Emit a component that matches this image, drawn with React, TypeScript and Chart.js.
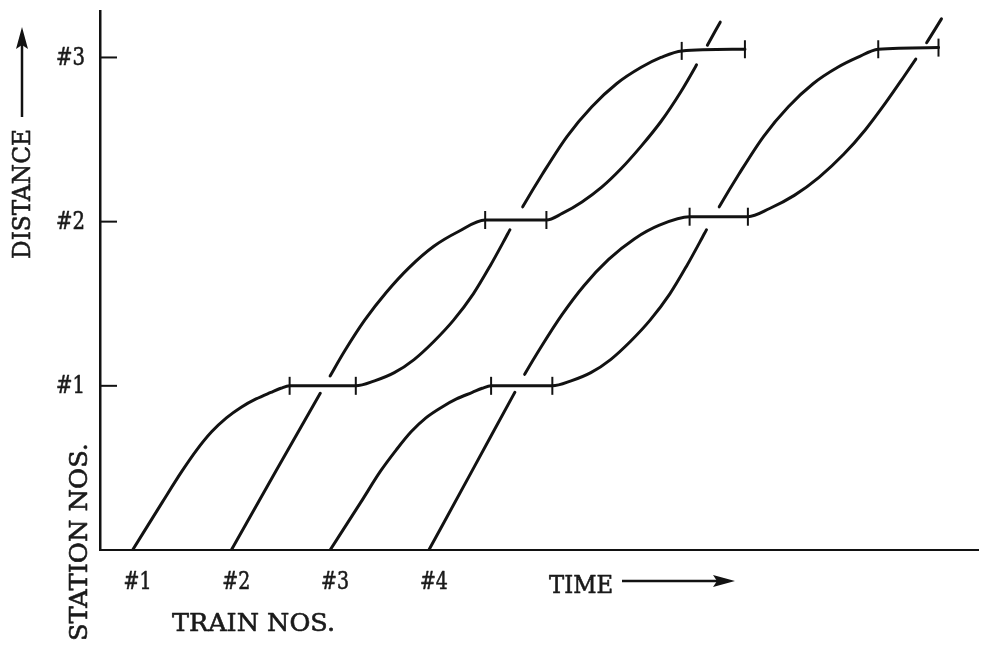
import React, { useEffect, useRef } from "react";
import { Chart, registerables } from "chart.js";

Chart.register(...registerables);

// ---- axis categories / tick labels ----
const stationValues = [1, 2, 3];
const stationLabels = ["#1", "#2", "#3"];
const trainStartTimes = [1, 2, 3, 4];
const trainLabels = ["#1", "#2", "#3", "#4"];

// ---- train paths (time units, station-distance units) ----
const train1Time = [1.0, 1.3, 1.5, 1.65, 1.8, 1.95, 2.1, 2.25, 2.4, 2.5, 2.59, 3.26, 3.45, 3.65, 3.85, 4.05, 4.25, 4.45, 4.62, 4.78, 4.82, 4.95, 5.15, 5.4, 5.65, 5.9, 6.15, 6.35, 6.56, 7.2];
const train1Dist = [0, 0.29, 0.48, 0.61, 0.72, 0.805, 0.87, 0.92, 0.96, 0.985, 1.0, 1.0, 1.03, 1.08, 1.16, 1.27, 1.4, 1.56, 1.73, 1.905, 1.95, 2.09, 2.29, 2.52, 2.7, 2.84, 2.94, 3.0, 3.04, 3.05];
const train1Gaps = [4.82];

const train2Time = [2.0, 2.45, 2.9, 3.0, 3.15, 3.35, 3.57, 3.8, 4.05, 4.3, 4.57, 5.19, 5.35, 5.55, 5.75, 5.95, 6.15, 6.35, 6.55, 6.71, 6.82, 6.95];
const train2Dist = [0, 0.48, 0.955, 1.06, 1.215, 1.4, 1.57, 1.72, 1.85, 1.94, 2.01, 2.01, 2.05, 2.12, 2.21, 2.325, 2.46, 2.61, 2.79, 2.955, 3.075, 3.215];
const train2Gaps = [2.9, 6.71];

const train3Time = [3.0, 3.31, 3.51, 3.67, 3.82, 3.97, 4.13, 4.28, 4.44, 4.54, 4.63, 5.25, 5.44, 5.64, 5.84, 6.04, 6.24, 6.44, 6.61, 6.77, 6.81, 6.94, 7.14, 7.39, 7.64, 7.89, 8.14, 8.34, 8.55, 9.16];
const train3Dist = [0, 0.29, 0.48, 0.61, 0.72, 0.805, 0.87, 0.92, 0.96, 0.985, 1.0, 1.0, 1.03, 1.08, 1.16, 1.27, 1.4, 1.56, 1.73, 1.905, 1.95, 2.09, 2.29, 2.52, 2.7, 2.84, 2.94, 3.0, 3.05, 3.06];
const train3Gaps = [6.81];

const train4Time = [4.0, 4.44, 4.87, 4.97, 5.15, 5.35, 5.57, 5.82, 6.08, 6.34, 6.64, 7.23, 7.45, 7.7, 7.95, 8.2, 8.42, 8.62, 8.8, 8.93, 9.04, 9.19];
const train4Dist = [0, 0.485, 0.96, 1.07, 1.25, 1.435, 1.61, 1.77, 1.895, 1.98, 2.03, 2.03, 2.08, 2.16, 2.27, 2.41, 2.56, 2.72, 2.875, 2.99, 3.09, 3.235];
const train4Gaps = [4.87, 8.93];

// ---- stop (arrival / departure) marks ----
const stopTimes = [2.59, 3.26, 6.56, 7.2, 4.57, 5.19, 4.63, 5.25, 8.55, 9.16, 6.64, 7.23];
const stopDist = [1.0, 1.0, 3.04, 3.05, 2.01, 2.01, 1.0, 1.0, 3.05, 3.06, 2.03, 2.03];

// ---- axis ranges ----
const timeMin = 0.67;
const timeMax = 9.56;
const distMin = 0;
const distMax = 3.283;

const LINE = "#121212";
const TEXT = "#1a1a1a";
const FONT_SIZE = 25;
const CAP = FONT_SIZE * 0.729;
const FONT_FAMILY = '"DejaVu Serif", "Liberation Serif", serif';

function makeTrain(label: string, times: number[], dists: number[], gaps: number[]) {
  return {
    label,
    data: times.map((t, i) => ({ x: t, y: dists[i] })),
    borderColor: LINE,
    borderWidth: 3,
    pointRadius: 0,
    fill: false,
    cubicInterpolationMode: "monotone" as const,
    borderCapStyle: "round" as const,
    borderJoinStyle: "round" as const,
    segment: {
      borderColor: (c: any) =>
        gaps.some((g) => Math.abs(times[c.p0DataIndex] - g) < 1e-6) ? "rgba(0,0,0,0)" : LINE,
    },
  };
}

// Draws text fitted to a given width (typewriter-like spacing), vertically centred on y.
// If vertical, text reads bottom-to-top.
function drawText(ctx: CanvasRenderingContext2D, text: string, x: number, y: number, width: number, align: "left" | "right" | "center", vertical = false) {
  ctx.save();
  ctx.font = `${FONT_SIZE}px ${FONT_FAMILY}`;
  const natural = ctx.measureText(text).width;
  const sx = width / natural;
  let start = 0;
  if (align === "right") start = -width;
  else if (align === "center") start = -width / 2;
  ctx.translate(x, y);
  if (vertical) ctx.rotate(-Math.PI / 2);
  ctx.translate(start, 0);
  ctx.scale(sx, 1);
  ctx.fillStyle = TEXT;
  ctx.strokeStyle = TEXT;
  ctx.lineWidth = 0.6;
  ctx.lineJoin = "round";
  ctx.textAlign = "left";
  ctx.textBaseline = "alphabetic";
  ctx.fillText(text, 0, CAP / 2);
  ctx.strokeText(text, 0, CAP / 2);
  ctx.restore();
}

function arrowHead(ctx: CanvasRenderingContext2D, tipX: number, tipY: number, dx: number, dy: number) {
  const len = 22;
  const half = 6;
  const bx = tipX - dx * len;
  const by = tipY - dy * len;
  const px = -dy;
  const py = dx;
  ctx.beginPath();
  ctx.moveTo(tipX, tipY);
  ctx.lineTo(bx + px * half, by + py * half);
  ctx.lineTo(bx + dx * 4, by + dy * 4);
  ctx.lineTo(bx - px * half, by - py * half);
  ctx.closePath();
  ctx.fill();
}

const decorPlugin = {
  id: "decor",
  afterDraw(chart: any) {
    const { ctx, chartArea, scales } = chart;
    const xs = scales.x;
    const ys = scales.y;
    ctx.save();
    ctx.strokeStyle = LINE;
    ctx.fillStyle = LINE;
    ctx.lineWidth = 2;
    ctx.lineCap = "butt";

    stationValues.forEach((v, i) => {
      const py = ys.getPixelForValue(v);
      ctx.beginPath();
      ctx.moveTo(chartArea.left, py);
      ctx.lineTo(chartArea.left + 17, py);
      ctx.stroke();
      drawText(ctx, stationLabels[i], chartArea.left - 15, py - 2, 29, "right");
    });

    trainStartTimes.forEach((t, i) => {
      const px = xs.getPixelForValue(t) + 5;
      drawText(ctx, trainLabels[i], px, chartArea.bottom + 30, 28, "center");
    });

    drawText(ctx, "TRAIN NOS.", chartArea.left + 72, chartArea.bottom + 72, 163, "left");
    drawText(ctx, "TIME", chartArea.left + 449, chartArea.bottom + 34, 64, "left");
    drawText(ctx, "STATION NOS.", 78, 641, 198, "left", true);
    drawText(ctx, "DISTANCE", 21, 259, 130, "left", true);

    const ay = chartArea.bottom + 31;
    ctx.fillStyle = LINE;
    ctx.lineWidth = 2.5;
    ctx.beginPath();
    ctx.moveTo(chartArea.left + 522, ay);
    ctx.lineTo(chartArea.left + 620, ay);
    ctx.stroke();
    arrowHead(ctx, chartArea.left + 635, ay, 1, 0);

    ctx.beginPath();
    ctx.moveTo(22, 117);
    ctx.lineTo(22, 42);
    ctx.stroke();
    arrowHead(ctx, 22, 27, 0, -1);

    ctx.restore();
  },
};

export default function App() {
  const canvasRef = useRef<HTMLCanvasElement | null>(null);

  useEffect(() => {
    let chart: Chart | null = null;
    let cancelled = false;

    const build = () => {
      const canvas = canvasRef.current;
      if (!canvas || cancelled) return;
      chart = new Chart(canvas, {
        type: "line",
        data: {
          datasets: [
            makeTrain("Train #1", train1Time, train1Dist, train1Gaps),
            makeTrain("Train #2", train2Time, train2Dist, train2Gaps),
            makeTrain("Train #3", train3Time, train3Dist, train3Gaps),
            makeTrain("Train #4", train4Time, train4Dist, train4Gaps),
            {
              label: "Stops",
              data: stopTimes.map((t, i) => ({ x: t, y: stopDist[i] })),
              showLine: false,
              pointStyle: "line",
              pointRotation: 90,
              pointRadius: 9,
              pointBorderWidth: 2,
              pointBorderColor: LINE,
              pointBackgroundColor: LINE,
              borderColor: LINE,
            } as any,
          ],
        },
        options: {
          responsive: false,
          animation: false,
          events: [],
          layout: { padding: { left: 100, top: 5, right: 0, bottom: 98 } },
          plugins: { legend: { display: false }, tooltip: { enabled: false } },
          scales: {
            x: {
              type: "linear",
              min: timeMin,
              max: timeMax,
              grid: { display: false, drawTicks: false },
              ticks: { display: false },
              border: { display: true, color: LINE, width: 2 },
              afterFit: (s: any) => {
                s.height = 0;
              },
            },
            y: {
              type: "linear",
              min: distMin,
              max: distMax,
              grid: { display: false, drawTicks: false },
              ticks: { display: false },
              border: { display: true, color: LINE, width: 2.5 },
              afterFit: (s: any) => {
                s.width = 0;
              },
            },
          },
        },
        plugins: [decorPlugin],
      });
    };

    const fontsApi: any = (document as any).fonts;
    if (fontsApi && fontsApi.load) {
      fontsApi.load(`${FONT_SIZE}px "DejaVu Serif"`).then(build, build);
    } else {
      build();
    }

    return () => {
      cancelled = true;
      if (chart) chart.destroy();
    };
  }, []);

  return (
    <div style={{ position: "absolute", left: 0, top: 0, width: 989, height: 648, background: "#fff" }}>
      <canvas ref={canvasRef} width={989} height={648} />
    </div>
  );
}
